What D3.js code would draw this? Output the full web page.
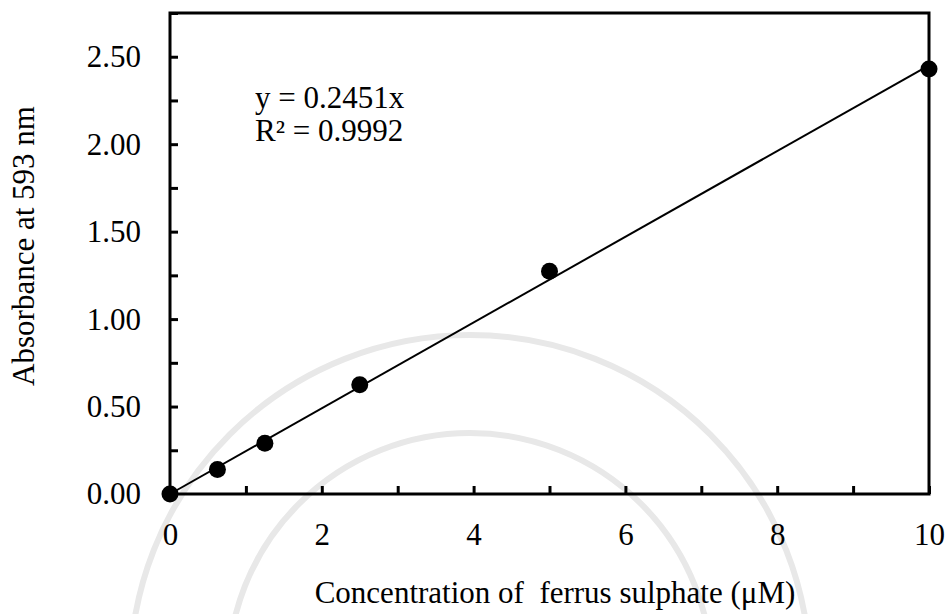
<!DOCTYPE html>
<html>
<head>
<meta charset="utf-8">
<script src="https://cdn.jsdelivr.net/npm/d3@7"></script>
<style>
  body { margin: 0; background: #fff; }
  text { font-family: "Liberation Serif", "Times New Roman", serif; fill: #000; }
</style>
</head>
<body>
<div id="chart"></div>
<script>
// data
var concentration = [0, 0.625, 1.25, 2.5, 5, 10]
var absorbance = [0, 0.14, 0.29, 0.625, 1.273, 2.43]
var slope = 0.2451
var yTicks = [0, 0.5, 1.0, 1.5, 2.0, 2.5]
var xTicks = [0, 2, 4, 6, 8, 10]
var fs = "31px"

var width = 949
var height = 614
var margin = { top: 13, right: 20, bottom: 120, left: 170 }
var plotW = 929 - margin.left
var plotH = 494 - margin.top

var svg = d3.select("#chart")
    .append("svg")
    .attr("width", width)
    .attr("height", height)

// faint watermark rings behind everything
var wm = svg.append("g").attr("fill", "none").attr("stroke", "#e8e8e8")
wm.append("circle").attr("cx", 470).attr("cy", 675).attr("r", 242).attr("stroke-width", 6)
wm.append("circle").attr("cx", 470).attr("cy", 675).attr("r", 340).attr("stroke-width", 6)

var g = svg.append("g")
    .attr("transform", `translate(${margin.left}, ${margin.top})`)

var x = d3.scaleLinear().domain([0, 10]).range([0, plotW])
var y = d3.scaleLinear().domain([0, 2.75]).range([plotH, 0])

// frame
g.append("rect")
    .attr("x", 0).attr("y", 0)
    .attr("width", plotW).attr("height", plotH)
    .attr("fill", "none")
    .attr("stroke", "#000")
    .attr("stroke-width", 3)

// inward ticks
var yAxis = g.append("g")
    .call(d3.axisLeft(y).tickValues(d3.range(0, 2.751, 0.25)).tickSize(-8).tickFormat(""))
yAxis.select(".domain").remove()
yAxis.selectAll("line").attr("stroke-width", 3)

g.append("g")
    .call(d3.axisLeft(y).tickValues(yTicks).tickSize(0).tickPadding(29).tickFormat(d3.format(".2f")))
    .call(a => a.select(".domain").remove())
    .selectAll("text")
    .style("font-size", fs)
    .style("font-family", "Liberation Serif")

var xAxis = g.append("g")
    .attr("transform", `translate(0,${plotH})`)
    .call(d3.axisBottom(x).ticks(10).tickSize(-8).tickFormat(""))
xAxis.select(".domain").remove()
xAxis.selectAll("line").attr("stroke-width", 3)

g.append("g")
    .attr("transform", `translate(0,${plotH})`)
    .call(d3.axisBottom(x).tickValues(xTicks).tickSize(0).tickPadding(29))
    .call(a => a.select(".domain").remove())
    .selectAll("text")
    .style("font-size", fs)
    .style("font-family", "Liberation Serif")

// trendline
g.append("line")
    .attr("x1", x(0)).attr("y1", y(0))
    .attr("x2", x(10)).attr("y2", y(slope * 10))
    .attr("stroke", "#000")
    .attr("stroke-width", 2)

g.selectAll("circle")
    .data(concentration)
    .enter()
    .append("circle")
    .attr("cx", d => x(d))
    .attr("cy", (d, i) => y(absorbance[i]))
    .attr("r", 8.5)
    .attr("fill", "#000")

// equation
g.append("text")
    .attr("x", 85).attr("y", 95)
    .style("font-size", fs)
    .text("y = 0.2451x")
g.append("text")
    .attr("x", 85).attr("y", 128)
    .style("font-size", fs)
    .text("R² = 0.9992")

// axis titles
svg.append("text")
    .attr("x", 555).attr("y", 603)
    .attr("text-anchor", "middle")
    .style("font-size", fs)
    .style("white-space", "pre")
    .attr("xml:space", "preserve")
    .text("Concentration of  ferrus sulphate (μM)")

svg.append("text")
    .attr("transform", "translate(34, 246) rotate(-90)")
    .attr("text-anchor", "middle")
    .style("font-size", fs)
    .text("Absorbance at 593 nm")
</script>
</body>
</html>
